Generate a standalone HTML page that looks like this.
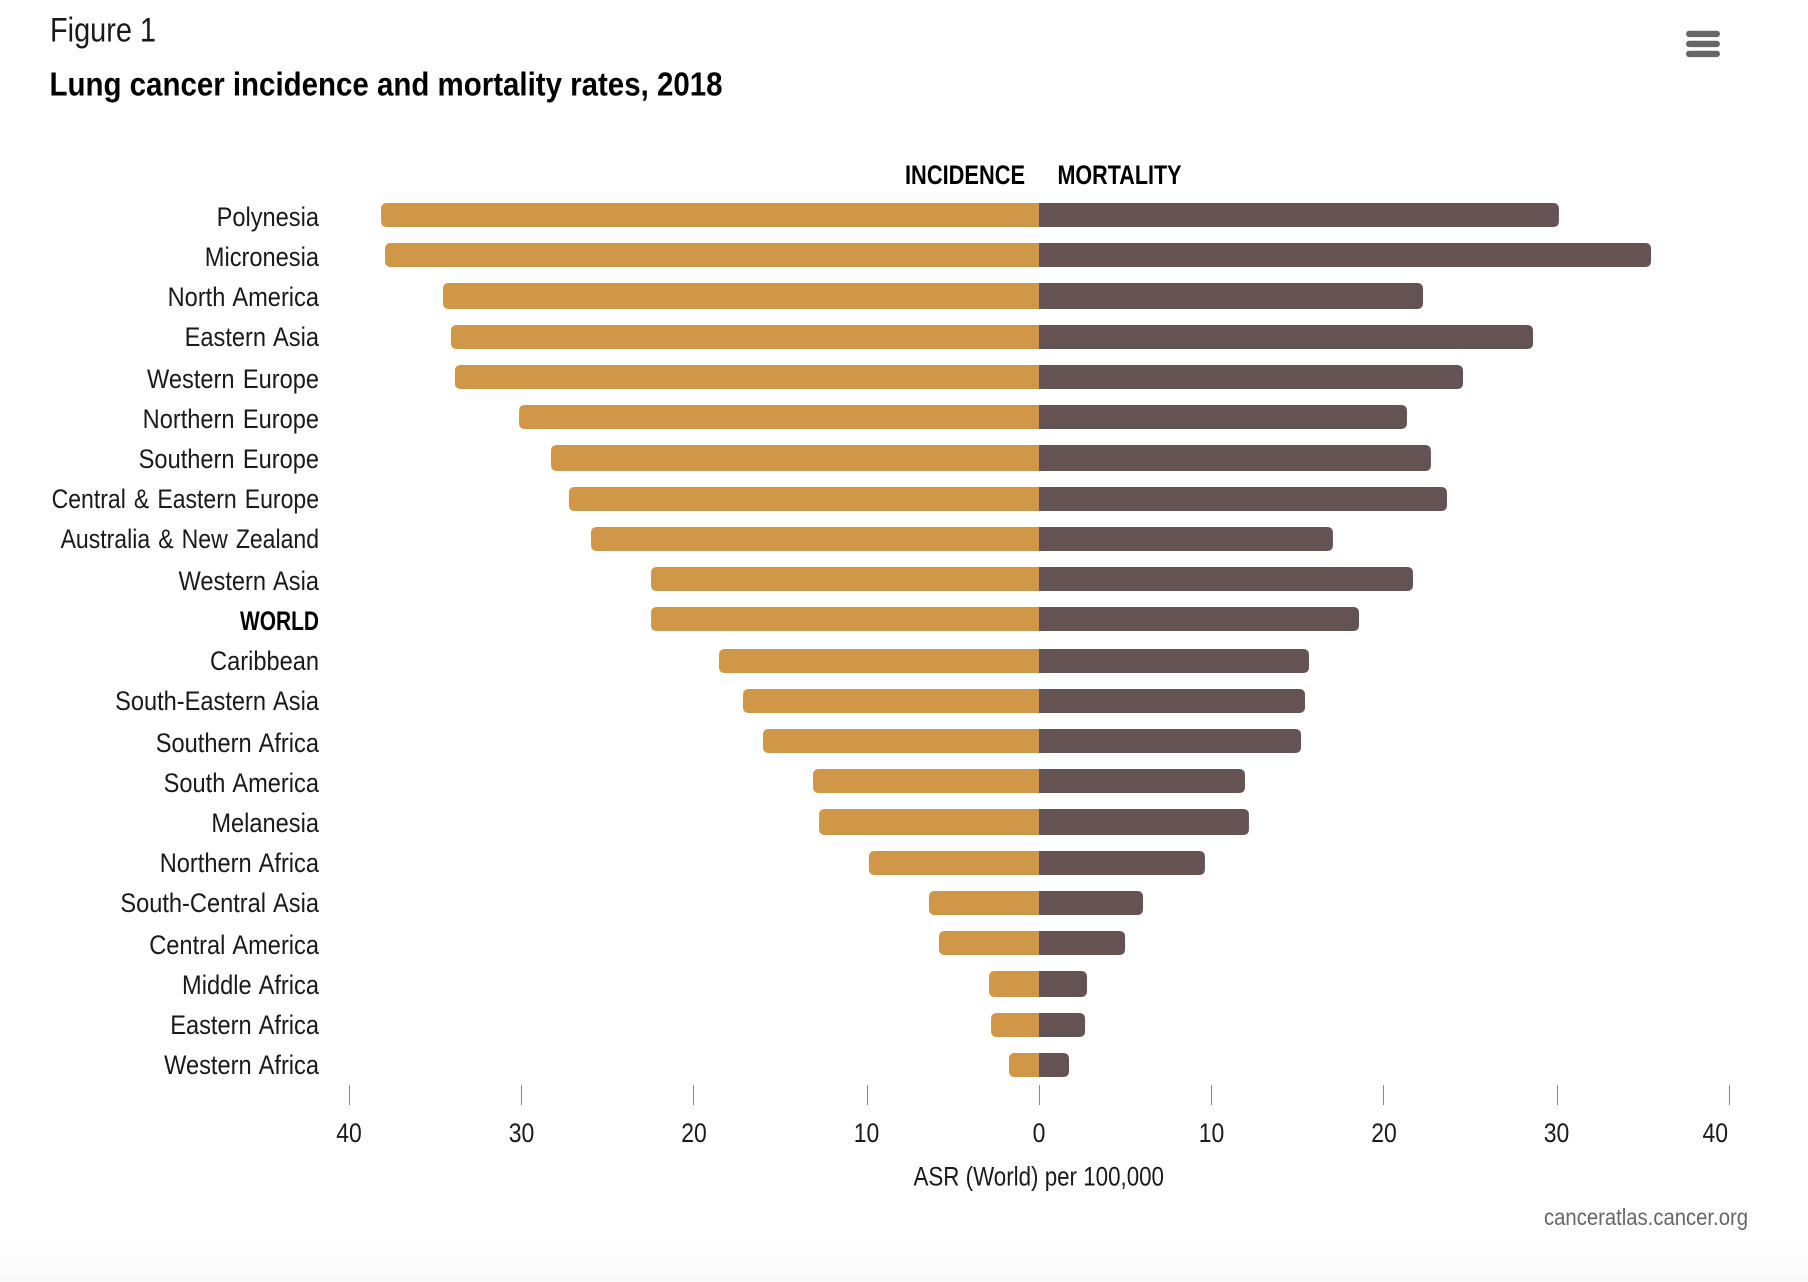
<!DOCTYPE html>
<html lang="en">
<head>
<meta charset="utf-8">
<title>Lung cancer incidence and mortality rates, 2018</title>
<style>
html,body{margin:0;padding:0;background:#fff;}
svg{display:block;}
text{font-family:"Liberation Sans",Arial,sans-serif;fill:#1a1a1a;}
</style>
</head>
<body>
<svg id="chart" xmlns="http://www.w3.org/2000/svg" width="1808" height="1282" viewBox="0 0 1808 1282">
  <defs>
    <linearGradient id="fade" x1="0" y1="0" x2="0" y2="1">
      <stop offset="0" stop-color="#ffffff"/>
      <stop offset="1" stop-color="#fafafa"/>
    </linearGradient>
  </defs>
  <rect x="0" y="0" width="1808" height="1282" fill="#fff"/>
  <rect x="0" y="1235" width="1808" height="47" fill="url(#fade)"/>

  <text x="50" y="41.7" font-size="34" textLength="106" lengthAdjust="spacingAndGlyphs">Figure 1</text>
  <text x="49.5" y="95.7" font-size="33" font-weight="bold" style="fill:#000" textLength="673" lengthAdjust="spacingAndGlyphs">Lung cancer incidence and mortality rates, 2018</text>

  <g>
    <rect x="1686" y="30.7" width="34" height="6.4" rx="3.2" fill="#666"/>
    <rect x="1686" y="40.7" width="34" height="6.4" rx="3.2" fill="#666"/>
    <rect x="1686" y="50.7" width="34" height="6.4" rx="3.2" fill="#666"/>
  </g>

  <text x="905" y="184" font-size="27" font-weight="bold" style="fill:#000" textLength="120" lengthAdjust="spacingAndGlyphs">INCIDENCE</text>
  <text x="1057.5" y="184" font-size="27" font-weight="bold" style="fill:#000" textLength="124" lengthAdjust="spacingAndGlyphs">MORTALITY</text>

  <g id="bars"></g>
  <g id="row-labels"></g>
  <g id="axis"></g>

  <text x="913.5" y="1185.7" font-size="27" textLength="250.5" lengthAdjust="spacingAndGlyphs">ASR (World) per 100,000</text>
  <text x="1544" y="1225" font-size="23" style="fill:#666" textLength="204" lengthAdjust="spacingAndGlyphs">canceratlas.cancer.org</text>
</svg>

<script>
const categories = ["Polynesia","Micronesia","North America","Eastern Asia","Western Europe","Northern Europe","Southern Europe","Central & Eastern Europe","Australia & New Zealand","Western Asia","WORLD","Caribbean","South-Eastern Asia","Southern Africa","South America","Melanesia","Northern Africa","South-Central Asia","Central America","Middle Africa","Eastern Africa","Western Africa"];
const incidence = [38.14,37.91,34.55,34.09,33.86,30.14,28.29,27.25,25.97,22.49,22.49,18.55,17.16,16.0,13.1,12.75,9.86,6.38,5.8,2.9,2.78,1.74];
const mortality = [30.14,35.48,22.26,28.64,24.58,21.33,22.72,23.65,17.04,21.68,18.55,15.65,15.42,15.19,11.94,12.17,9.62,6.03,4.99,2.78,2.67,1.74];
const leftTicks = [40,30,20,10];
const rightTicks = [0,10,20,30,40];

const SVG_NS = "http://www.w3.org/2000/svg";
const ZERO_X = 1039;
const UNIT = 17.25;
const INCIDENCE_COLOR = "#d19748";
const MORTALITY_COLOR = "#655353";
const RADIUS = 6;

function xRight(v){ return ZERO_X + v * UNIT; }
function xLeft(v){ return ZERO_X - v * UNIT; }
function snapOdd(y){ return 2 * Math.round((y - 1) / 2) + 1; }
function barTop(i){ return snapOdd(202.75 + 40.48 * i); }
function barBottom(i){ return snapOdd(227.15 + 40.48 * i); }
function labelBaseline(i){ return snapOdd(226.6 + 40.42 * i) - 0.8; }
function labelScale(name){
  if (name === "WORLD") return 0.775;
  return name.indexOf("&") >= 0 ? 0.853 : 0.875;
}
function slug(s){ return s.toLowerCase().replace(/[^a-z0-9]+/g, "-"); }

function barPath(x0, x1, y0, y1){
  const dir = x1 > x0 ? 1 : -1;
  const r = Math.min(RADIUS, Math.abs(x1 - x0));
  return "M" + x0 + " " + y0 + "L" + (x1 - dir * r) + " " + y0 +
    "Q" + x1 + " " + y0 + " " + x1 + " " + (y0 + r) +
    "L" + x1 + " " + (y1 - r) +
    "Q" + x1 + " " + y1 + " " + (x1 - dir * r) + " " + y1 +
    "L" + x0 + " " + y1 + "Z";
}

const barsGroup = document.getElementById("bars");
const labelsGroup = document.getElementById("row-labels");
const axisGroup = document.getElementById("axis");

categories.forEach(function(name, i){
  const y0 = barTop(i);
  const y1 = barBottom(i);

  const inc = document.createElementNS(SVG_NS, "path");
  inc.setAttribute("d", barPath(ZERO_X, xLeft(incidence[i]), y0, y1));
  inc.setAttribute("fill", INCIDENCE_COLOR);
  
  
  barsGroup.appendChild(inc);

  const mor = document.createElementNS(SVG_NS, "path");
  mor.setAttribute("d", barPath(ZERO_X, xRight(mortality[i]), y0, y1));
  mor.setAttribute("fill", MORTALITY_COLOR);
  
  
  barsGroup.appendChild(mor);

  const isWorld = name === "WORLD";
  const label = document.createElementNS(SVG_NS, "text");
  label.textContent = name;
  label.setAttribute("text-anchor", "end");
  label.setAttribute("font-size", "27");
  label.setAttribute("word-spacing", "2");
  if (isWorld) label.setAttribute("font-weight", "bold");
  if (isWorld) label.setAttribute("style", "fill:#000");
  label.setAttribute("transform", "translate(319," + labelBaseline(i) + ") scale(" + labelScale(name) + ",1)");
  
  
  labelsGroup.appendChild(label);
});

function drawTick(v, x, side, anchorEnd){
  const tick = document.createElementNS(SVG_NS, "rect");
  tick.setAttribute("x", snapOdd(x - 0.1));
  tick.setAttribute("y", 1085);
  tick.setAttribute("width", 1);
  tick.setAttribute("height", 20);
  tick.setAttribute("fill", "#8a8a8a");
  
  
  axisGroup.appendChild(tick);

  const txt = document.createElementNS(SVG_NS, "text");
  txt.textContent = String(v);
  txt.setAttribute("text-anchor", anchorEnd ? "end" : "middle");
  txt.setAttribute("font-size", "27");
  txt.setAttribute("transform", "translate(" + (anchorEnd ? x - 1 : x) + ",1141.9) scale(0.85,1)");
  
  
  axisGroup.appendChild(txt);
}

leftTicks.forEach(function(v){ drawTick(v, xLeft(v), "incidence", false); });
rightTicks.forEach(function(v, i){
  drawTick(v, xRight(v), "mortality", i === rightTicks.length - 1);
});
</script>
</body>
</html>
